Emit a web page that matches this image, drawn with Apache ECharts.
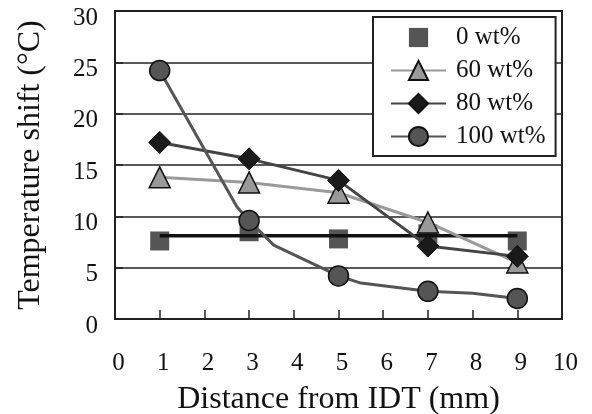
<!DOCTYPE html>
<html>
<head>
<meta charset="utf-8">
<script src="https://cdn.jsdelivr.net/npm/echarts@6/dist/echarts.min.js"></script>
<style>html,body{margin:0;padding:0;background:#fff;overflow:hidden;}#c{width:592px;height:414px;}</style>
</head>
<body>
<div id="c"></div>
<script>
// Data
const distances = [1, 3, 5, 7, 9];
const wt0 = [7.6, 8.5, 7.8, 8.3, 7.6];
const wt0Level = 8.1;            // horizontal black line from x=1 to x=9
const wt0LevelX = [1, 9];
const wt60 = [13.8, 13.3, 12.3, 9.4, 5.5];
const wt80 = [17.2, 15.6, 13.5, 7.1, 6.1];
const wt100 = [24.2, 9.6, 4.2, 2.7, 2.0];
// unmarked bend points visible on the 100 wt% line
const wt100BendX = [2.73, 3.55, 5.5, 8.0];
const wt100BendY = [10.9, 7.2, 3.5, 2.5];
const yTicks = [0, 5, 10, 15, 20, 25, 30];
const xTicks = [0, 1, 2, 3, 4, 5, 6, 7, 8, 9, 10];
const names = ['0 wt%', '60 wt%', '80 wt%', '100 wt%'];

const FONT = "'Liberation Serif', 'Times New Roman', Times, serif";
const pairs = (xs, ys) => xs.map((x, i) => [x, ys[i]]);

const line100 = distances.map((x, i) => ({ value: [x, wt100[i]] }))
  .concat(wt100BendX.map((x, i) => ({ value: [x, wt100BendY[i]], symbol: 'none' })))
  .sort((a, b) => a.value[0] - b.value[0]);

const chart = echarts.init(document.getElementById('c'), null, { renderer: 'canvas' });
chart.setOption({
  backgroundColor: '#ffffff',
  animation: false,
  textStyle: { fontFamily: FONT, color: '#111' },
  grid: {
    left: 115, top: 11, right: 30, bottom: 95,
    containLabel: false, outerBoundsMode: 'none',
    show: true, borderColor: '#222', borderWidth: 2
  },
  legend: {
    orient: 'vertical',
    left: 373, top: 17,
    padding: [8, 10, 7, 17],
    itemWidth: 55, itemHeight: 24, itemGap: 8,
    borderColor: '#222', borderWidth: 2, backgroundColor: '#fff',
    textStyle: { fontFamily: FONT, fontSize: 25, color: '#111', lineHeight: 24, padding: [0, 0, 0, 5] },
    data: names
  },
  xAxis: {
    type: 'value', min: xTicks[0], max: xTicks[xTicks.length - 1], interval: 1,
    name: 'Distance from IDT (mm)', nameLocation: 'middle', nameGap: 65,
    nameTextStyle: { fontFamily: FONT, fontSize: 32, color: '#111' },
    axisLine: { show: true, lineStyle: { color: '#222', width: 2 } },
    axisTick: { show: true, inside: true, length: 9, lineStyle: { color: '#222', width: 1.5 } },
    axisLabel: { margin: 32, padding: [0, 0, 0, 7], fontFamily: FONT, fontSize: 25, color: '#111' },
    splitLine: { show: false }
  },
  yAxis: {
    type: 'value', min: yTicks[0], max: yTicks[yTicks.length - 1], interval: 5,
    name: 'Temperature shift (°C)', nameLocation: 'middle', nameGap: 68,
    nameTextStyle: { fontFamily: FONT, fontSize: 32, color: '#111' },
    axisLine: { show: true, lineStyle: { color: '#222', width: 2 } },
    axisTick: { show: true, inside: true, length: 8, lineStyle: { color: '#222', width: 1.5 } },
    axisLabel: { margin: 17, verticalAlign: 'top', lineHeight: 14, fontFamily: FONT, fontSize: 25, color: '#111' },
    splitLine: { show: true, lineStyle: { color: '#222', width: 1.5 } }
  },
  series: [
    {
      name: names[0], type: 'line', symbol: 'rect', symbolSize: 19, showAllSymbol: true,
      lineStyle: { width: 0, opacity: 0 },
      itemStyle: { color: '#555555' },
      data: pairs(distances, wt0), z: 2
    },
    {
      name: 'level', type: 'line', symbol: 'none', silent: true,
      lineStyle: { color: '#111', width: 3.5 },
      data: wt0LevelX.map(x => [x, wt0Level]), z: 3
    },
    {
      name: names[1], type: 'line', symbol: 'triangle', symbolSize: [21, 21], showAllSymbol: true,
      lineStyle: { color: '#9a9a9a', width: 3 },
      itemStyle: { color: '#999999', borderColor: '#111', borderWidth: 1.5 },
      data: pairs(distances, wt60), z: 4
    },
    {
      name: names[2], type: 'line', symbol: 'diamond', symbolSize: [22, 22], showAllSymbol: true,
      lineStyle: { color: '#444444', width: 3 },
      itemStyle: { color: '#1a1a1a', borderColor: '#111', borderWidth: 1 },
      data: pairs(distances, wt80), z: 5
    },
    {
      name: names[3], type: 'line', symbol: 'circle', symbolSize: 20, showAllSymbol: true,
      lineStyle: { color: '#555555', width: 3 },
      itemStyle: { color: '#555555', borderColor: '#111', borderWidth: 1.5 },
      data: line100, z: 6
    }
  ]
});
</script>
</body>
</html>
